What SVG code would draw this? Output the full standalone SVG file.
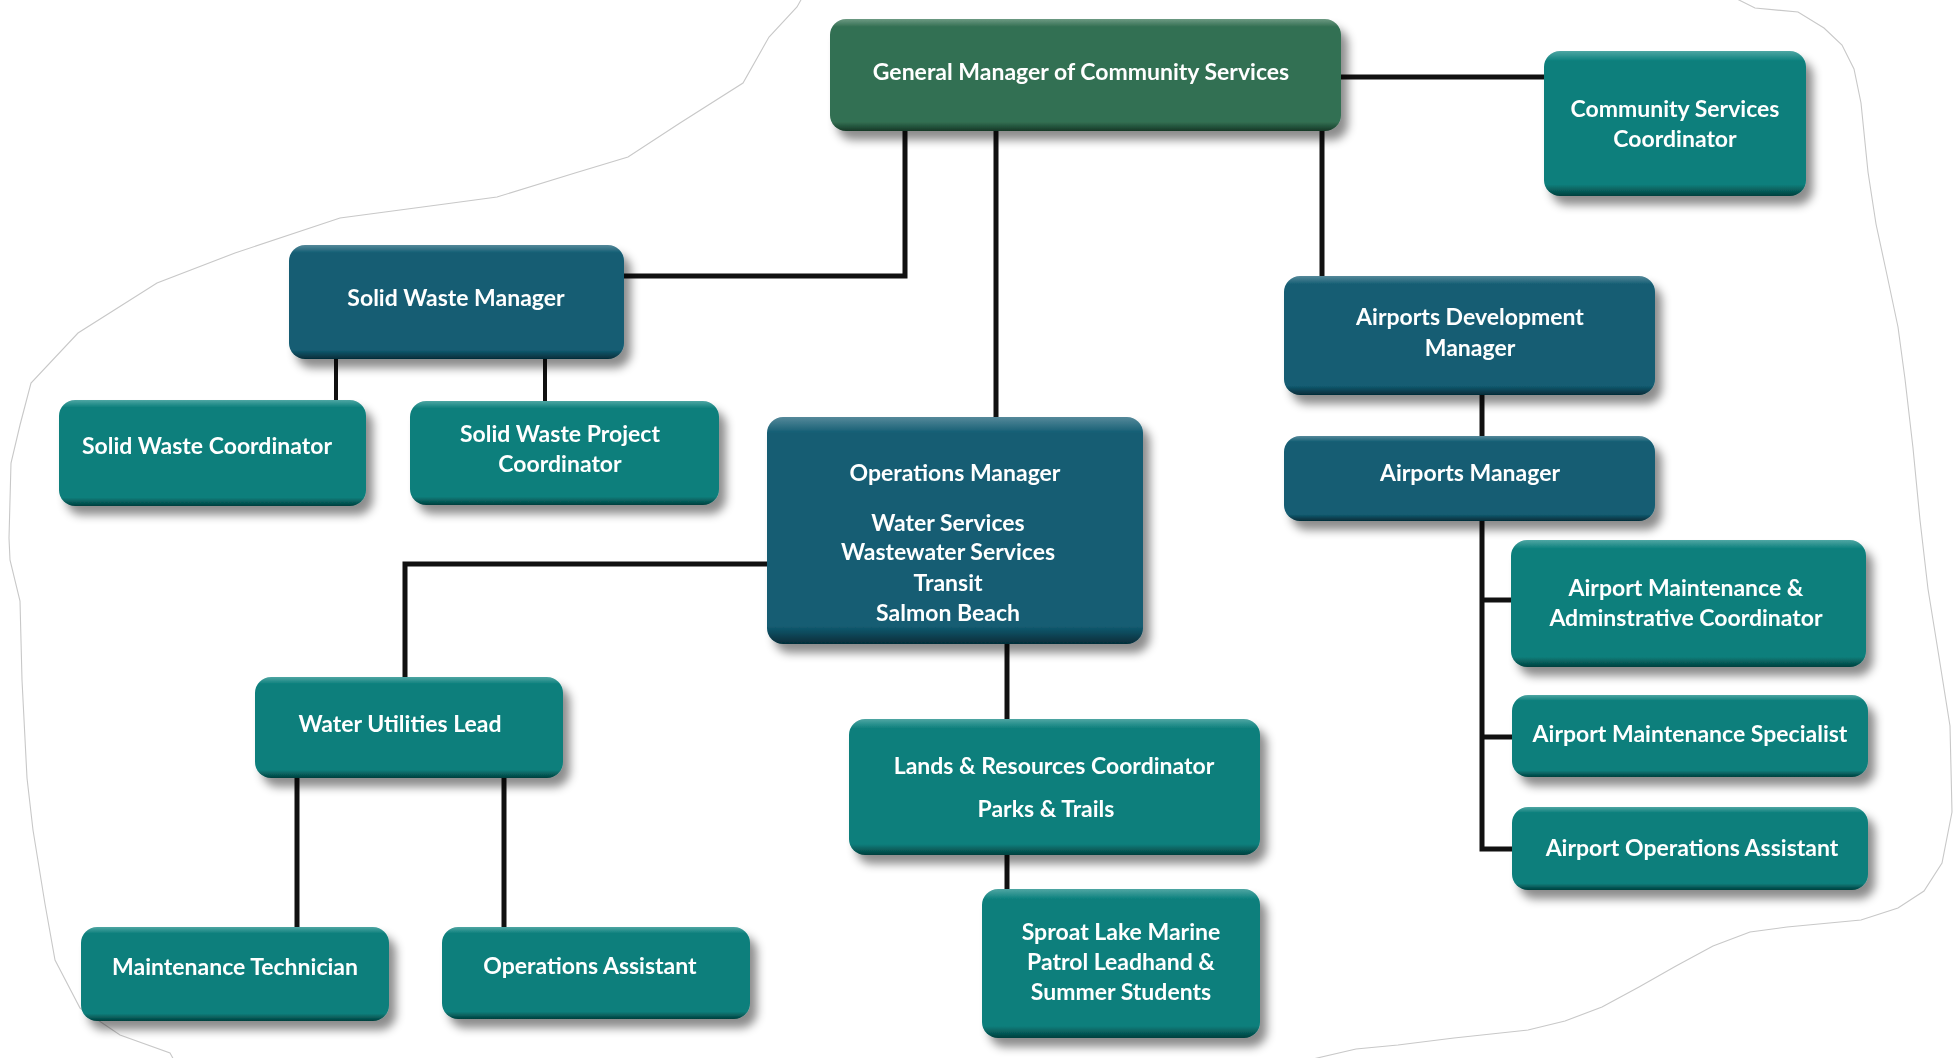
<svg xmlns="http://www.w3.org/2000/svg" width="1960" height="1058" viewBox="0 0 1960 1058">
<defs>
<linearGradient id="gGreen" x1="0" y1="0" x2="0" y2="1">
<stop offset="0" stop-color="#6d9a83"/><stop offset="0.07" stop-color="#336f52"/><stop offset="0.92" stop-color="#336f52"/><stop offset="1" stop-color="#153826"/>
</linearGradient>
<linearGradient id="gBlue" x1="0" y1="0" x2="0" y2="1">
<stop offset="0" stop-color="#55899a"/><stop offset="0.07" stop-color="#135d73"/><stop offset="0.92" stop-color="#135d73"/><stop offset="1" stop-color="#052c38"/>
</linearGradient>
<linearGradient id="gTeal" x1="0" y1="0" x2="0" y2="1">
<stop offset="0" stop-color="#4fa6a3"/><stop offset="0.07" stop-color="#0b7f7c"/><stop offset="0.92" stop-color="#0b7f7c"/><stop offset="1" stop-color="#033f3d"/>
</linearGradient>
<filter id="shadow" x="-10%" y="-10%" width="130%" height="140%">
<feDropShadow dx="7" dy="9" stdDeviation="5" flood-color="#000" flood-opacity="0.45"/>
</filter>
</defs>
<style>
.box{filter:url(#shadow)}
.green{fill:url(#gGreen)}
.blue{fill:url(#gBlue)}
.teal{fill:url(#gTeal)}
.lbl{font-family:Lato,"Open Sans","DejaVu Sans",sans-serif;font-weight:bold;font-size:23px;fill:#ffffff;text-anchor:middle}
.conn{fill:none;stroke:#111;stroke-width:5}
.thin{stroke-width:4}
.outline{fill:none;stroke:#c8c8c8;stroke-width:1.1}
</style>
<rect x="0" y="0" width="1960" height="1058" fill="#ffffff"/>
<path class="outline" d="M1735,-2 L1755,8 L1798,12 L1824,28 L1842,45 L1854,69 L1861,103 L1868,172 L1876,224 L1887,275 L1898,327 L1905,379 L1913,448 L1920,520 L1928,589 L1939,657 L1950,726 L1952,812 L1942,863 L1924,891 L1898,908 L1861,920 L1787,927 L1750,932 L1713,946 L1676,966 L1639,987 L1602,1007 L1565,1021 L1528,1030 L1454,1038 L1398,1045 L1356,1049 L1300,1062"/>
<path class="outline" d="M175,1062 L170,1053 L120,1035 L80,1008 L55,960 L45,904 L33,830 L27,778 L22,680 L20,601 L10,560 L9,538 L11,463 L20,425 L31,383 L78,333 L157,283 L235,253 L340,218 L445,204 L497,197 L575,173 L628,157 L680,123 L743,83 L769,37 L797,7 L802,-2"/>
<g id="connectors">
<path class="conn" d="M1341,77 H1544"/>
<path class="conn" d="M905,131 V276 H624"/>
<path class="conn" d="M996,131 V417"/>
<path class="conn" d="M1322,131 V276"/>
<path class="conn thin" d="M336,359 V400"/>
<path class="conn thin" d="M545,359 V401"/>
<path class="conn" d="M767,564 H405 V677"/>
<path class="conn" d="M297,778 V927"/>
<path class="conn" d="M504,778 V927"/>
<path class="conn" d="M1007,644 V719"/>
<path class="conn" d="M1007,855 V889"/>
<path class="conn" d="M1482,395 V436"/>
<path class="conn" d="M1482,521 V849 H1512"/>
<path class="conn" d="M1482,600 H1511"/>
<path class="conn" d="M1482,737 H1512"/>
</g>
<g id="gm" class="box"><rect class="green" x="830" y="19" width="511" height="112" rx="16"/><text class="lbl" x="1081" y="80">General Manager of Community Services</text></g>
<g id="csc" class="box"><rect class="teal" x="1544" y="51" width="262" height="145" rx="16"/><text class="lbl" x="1675" y="117">Community Services</text><text class="lbl" x="1675" y="147">Coordinator</text></g>
<g id="swm" class="box"><rect class="blue" x="289" y="245" width="335" height="114" rx="16"/><text class="lbl" x="456" y="306">Solid Waste Manager</text></g>
<g id="swc" class="box"><rect class="teal" x="59" y="400" width="307" height="106" rx="16"/><text class="lbl" x="207" y="454">Solid Waste Coordinator</text></g>
<g id="swpc" class="box"><rect class="teal" x="410" y="401" width="309" height="104" rx="16"/><text class="lbl" x="560" y="442">Solid Waste Project</text><text class="lbl" x="560" y="472">Coordinator</text></g>
<g id="om" class="box"><rect class="blue" x="767" y="417" width="376" height="227" rx="16"/><text class="lbl" x="955" y="481">Operations Manager</text><text class="lbl" x="948" y="531">Water Services</text><text class="lbl" x="948" y="560">Wastewater Services</text><text class="lbl" x="948" y="591">Transit</text><text class="lbl" x="948" y="621">Salmon Beach</text></g>
<g id="wul" class="box"><rect class="teal" x="255" y="677" width="308" height="101" rx="16"/><text class="lbl" x="400" y="732">Water Utilities Lead</text></g>
<g id="mt" class="box"><rect class="teal" x="81" y="927" width="308" height="94" rx="16"/><text class="lbl" x="235" y="975">Maintenance Technician</text></g>
<g id="oa" class="box"><rect class="teal" x="442" y="927" width="308" height="92" rx="16"/><text class="lbl" x="590" y="974">Operations Assistant</text></g>
<g id="lrc" class="box"><rect class="teal" x="849" y="719" width="411" height="136" rx="16"/><text class="lbl" x="1054" y="774">Lands &amp; Resources Coordinator</text><text class="lbl" x="1046" y="817">Parks &amp; Trails</text></g>
<g id="slm" class="box"><rect class="teal" x="982" y="889" width="278" height="149" rx="16"/><text class="lbl" x="1121" y="940">Sproat Lake Marine</text><text class="lbl" x="1121" y="970">Patrol Leadhand &amp;</text><text class="lbl" x="1121" y="1000">Summer Students</text></g>
<g id="adm" class="box"><rect class="blue" x="1284" y="276" width="371" height="119" rx="16"/><text class="lbl" x="1470" y="325">Airports Development</text><text class="lbl" x="1470" y="356">Manager</text></g>
<g id="am" class="box"><rect class="blue" x="1284" y="436" width="371" height="85" rx="16"/><text class="lbl" x="1470" y="481">Airports Manager</text></g>
<g id="amac" class="box"><rect class="teal" x="1511" y="540" width="355" height="127" rx="16"/><text class="lbl" x="1686" y="596">Airport Maintenance &amp;</text><text class="lbl" x="1686" y="626">Adminstrative Coordinator</text></g>
<g id="ams" class="box"><rect class="teal" x="1512" y="695" width="356" height="82" rx="16"/><text class="lbl" x="1690" y="742">Airport Maintenance Specialist</text></g>
<g id="aoa" class="box"><rect class="teal" x="1512" y="807" width="356" height="83" rx="16"/><text class="lbl" x="1692" y="856">Airport Operations Assistant</text></g>
</svg>
